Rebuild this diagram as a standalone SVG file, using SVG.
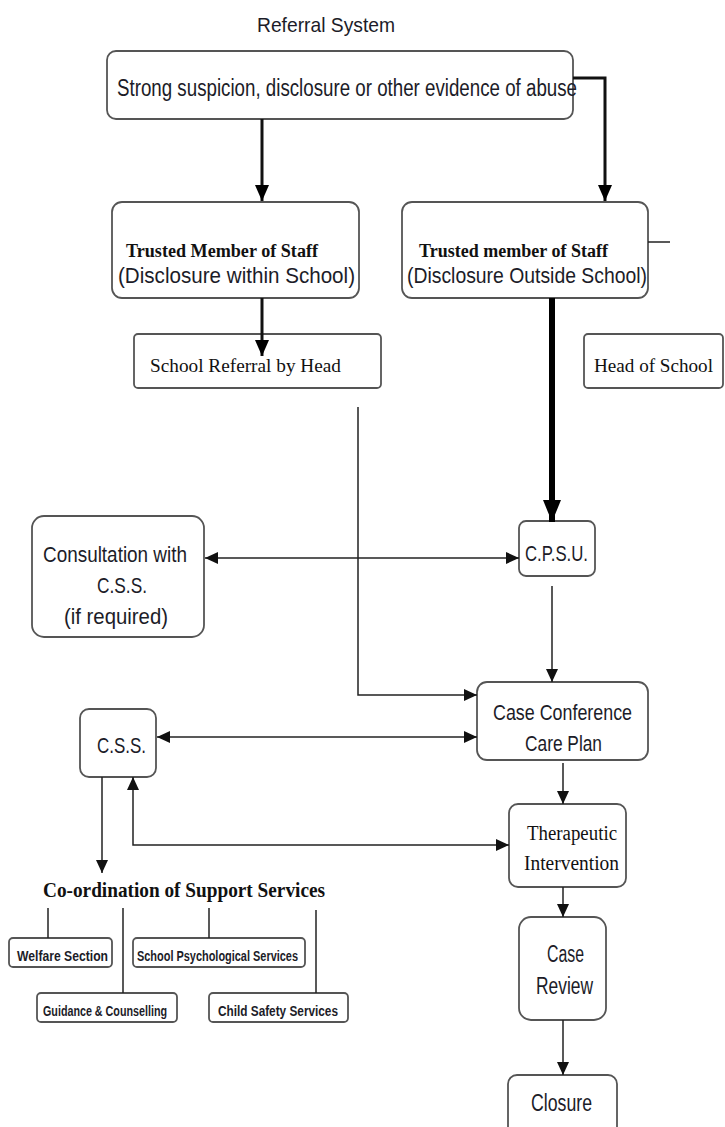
<svg xmlns="http://www.w3.org/2000/svg" width="725" height="1127" viewBox="0 0 725 1127">
<style>
.box{fill:#fff;stroke:#555;stroke-width:1.8}
.c{font-family:"Liberation Sans",Arial,sans-serif;fill:#1c1c28}
.s{font-family:"Liberation Serif","Times New Roman",serif;fill:#111}
.b{font-weight:bold}
.ln{fill:none;stroke:#222;stroke-width:1.5}
.th{fill:none;stroke:#111;stroke-width:3}
.tk{fill:none;stroke:#000;stroke-width:6}
</style>
<defs>
<marker id="a" markerUnits="userSpaceOnUse" markerWidth="14" markerHeight="12" refX="13" refY="6" orient="auto-start-reverse" viewBox="0 0 14 12"><path d="M0,0 L13,6 L0,12 Z" fill="#111"/></marker>
<marker id="a3" markerUnits="userSpaceOnUse" markerWidth="16" markerHeight="14" refX="16" refY="7" orient="auto" viewBox="0 0 16 14"><path d="M0,0 L16,7 L0,14 Z" fill="#000"/></marker>
<marker id="a6" markerUnits="userSpaceOnUse" markerWidth="22" markerHeight="18" refX="22" refY="9" orient="auto" viewBox="0 0 22 18"><path d="M0,0 L22,9 L0,18 Z" fill="#000"/></marker>
</defs>
<rect width="725" height="1127" fill="#fff"/>
<text id="title" class="c" x="257" y="32" font-size="21" textLength="138" lengthAdjust="spacingAndGlyphs">Referral System</text>

<g id="n-top"><rect class="box" x="107" y="51" width="466" height="68" rx="9"/>
<text class="c" x="117" y="96" font-size="23" textLength="460" lengthAdjust="spacingAndGlyphs">Strong suspicion, disclosure or other evidence of abuse</text></g>

<g id="n-within"><rect class="box" x="112" y="202" width="247" height="96" rx="10"/>
<text class="s b" x="126" y="257" font-size="18" textLength="192" lengthAdjust="spacingAndGlyphs">Trusted Member of Staff</text>
<text class="c" x="118" y="283" font-size="22" textLength="237" lengthAdjust="spacingAndGlyphs">(Disclosure within School)</text></g>

<g id="n-outside"><rect class="box" x="402" y="202" width="246" height="96" rx="10"/>
<text class="s b" x="419" y="257" font-size="18" textLength="189" lengthAdjust="spacingAndGlyphs">Trusted member of Staff</text>
<text class="c" x="407" y="283" font-size="22" textLength="240" lengthAdjust="spacingAndGlyphs">(Disclosure Outside School)</text></g>

<g id="n-referral"><rect class="box" x="134" y="334" width="247" height="54" rx="4"/>
<text class="s" x="150" y="372" font-size="19" textLength="191" lengthAdjust="spacingAndGlyphs">School Referral by Head</text></g>

<g id="n-head"><rect class="box" x="584" y="334" width="139" height="54" rx="4"/>
<text class="s" x="594" y="372" font-size="19" textLength="119" lengthAdjust="spacingAndGlyphs">Head of School</text></g>

<g id="n-consult"><rect class="box" x="32" y="516" width="172" height="121" rx="12"/>
<text class="c" x="43" y="562" font-size="22" textLength="144" lengthAdjust="spacingAndGlyphs">Consultation with</text>
<text class="c" x="97" y="593" font-size="22" textLength="50" lengthAdjust="spacingAndGlyphs">C.S.S.</text>
<text class="c" x="64" y="624" font-size="22" textLength="104" lengthAdjust="spacingAndGlyphs">(if required)</text></g>

<g id="n-cpsu"><rect class="box" x="519" y="521" width="76" height="55" rx="7"/>
<text class="c" x="525" y="561" font-size="22" textLength="63" lengthAdjust="spacingAndGlyphs">C.P.S.U.</text></g>

<g id="n-cc"><rect class="box" x="477" y="682" width="171" height="78" rx="10"/>
<text class="c" x="493" y="720" font-size="22" textLength="139" lengthAdjust="spacingAndGlyphs">Case Conference</text>
<text class="c" x="525" y="751" font-size="22" textLength="77" lengthAdjust="spacingAndGlyphs">Care Plan</text></g>

<g id="n-css"><rect class="box" x="80" y="709" width="76" height="68" rx="9"/>
<text class="c" x="97" y="753" font-size="22" textLength="49" lengthAdjust="spacingAndGlyphs">C.S.S.</text></g>

<g id="n-ther"><rect class="box" x="509" y="804" width="117" height="83" rx="9"/>
<text class="s" x="527" y="840" font-size="20" textLength="90" lengthAdjust="spacingAndGlyphs">Therapeutic</text>
<text class="s" x="524" y="870" font-size="20" textLength="95" lengthAdjust="spacingAndGlyphs">Intervention</text></g>

<g id="n-review"><rect class="box" x="519" y="917" width="87" height="103" rx="12"/>
<text class="c" x="547" y="962" font-size="23" textLength="37" lengthAdjust="spacingAndGlyphs">Case</text>
<text class="c" x="536" y="994" font-size="23" textLength="57" lengthAdjust="spacingAndGlyphs">Review</text></g>

<g id="n-closure"><rect class="box" x="508" y="1075" width="109" height="62" rx="9"/>
<text class="c" x="531" y="1111" font-size="23" textLength="61" lengthAdjust="spacingAndGlyphs">Closure</text></g>

<g id="n-coord"><text class="s b" x="43" y="897" font-size="22" textLength="282" lengthAdjust="spacingAndGlyphs">Co-ordination of Support Services</text></g>

<g id="n-welfare"><rect class="box" x="9" y="938" width="103" height="29" rx="4"/>
<text class="c b" x="17" y="961" font-size="14" textLength="91" lengthAdjust="spacingAndGlyphs">Welfare Section</text></g>

<g id="n-psych"><rect class="box" x="133" y="938" width="172" height="29" rx="4"/>
<text class="c b" x="137" y="961" font-size="14" textLength="161" lengthAdjust="spacingAndGlyphs">School Psychological Services</text></g>

<g id="n-guidance"><rect class="box" x="37" y="993" width="140" height="29" rx="4"/>
<text class="c b" x="43" y="1016" font-size="14" textLength="124" lengthAdjust="spacingAndGlyphs">Guidance &amp; Counselling</text></g>

<g id="n-child"><rect class="box" x="209" y="993" width="139" height="29" rx="4"/>
<text class="c b" x="218" y="1016" font-size="14" textLength="120" lengthAdjust="spacingAndGlyphs">Child Safety Services</text></g>

<g id="connectors">
<line class="th" x1="262" y1="119" x2="262" y2="201" marker-end="url(#a3)"/>
<path class="th" d="M573,78 H605 V201" marker-end="url(#a3)"/>
<line class="ln" x1="648" y1="242" x2="670" y2="242"/>
<line class="th" x1="262" y1="298" x2="262" y2="356" marker-end="url(#a3)"/>
<line class="tk" x1="552" y1="298" x2="552" y2="522" marker-end="url(#a6)"/>
<path class="ln" d="M358,407 V695 H477" marker-end="url(#a)"/>
<line class="ln" x1="205" y1="558" x2="519" y2="558" marker-start="url(#a)" marker-end="url(#a)"/>
<line class="ln" x1="552" y1="586" x2="552" y2="682" marker-end="url(#a)"/>
<line class="ln" x1="157" y1="737" x2="477" y2="737" marker-start="url(#a)" marker-end="url(#a)"/>
<line class="ln" x1="563" y1="763" x2="563" y2="804" marker-end="url(#a)"/>
<path class="ln" d="M509,845 H133 V777" marker-start="url(#a)" marker-end="url(#a)"/>
<line class="ln" x1="102" y1="777" x2="102" y2="873" marker-end="url(#a)"/>
<line class="ln" x1="563" y1="887" x2="563" y2="917" marker-end="url(#a)"/>
<line class="ln" x1="563" y1="1020" x2="563" y2="1075" marker-end="url(#a)"/>
<line class="ln" x1="48" y1="908" x2="48" y2="938"/>
<line class="ln" x1="123" y1="908" x2="123" y2="993"/>
<line class="ln" x1="209" y1="908" x2="209" y2="938"/>
<line class="ln" x1="316" y1="910" x2="316" y2="993"/>
</g>
</svg>
